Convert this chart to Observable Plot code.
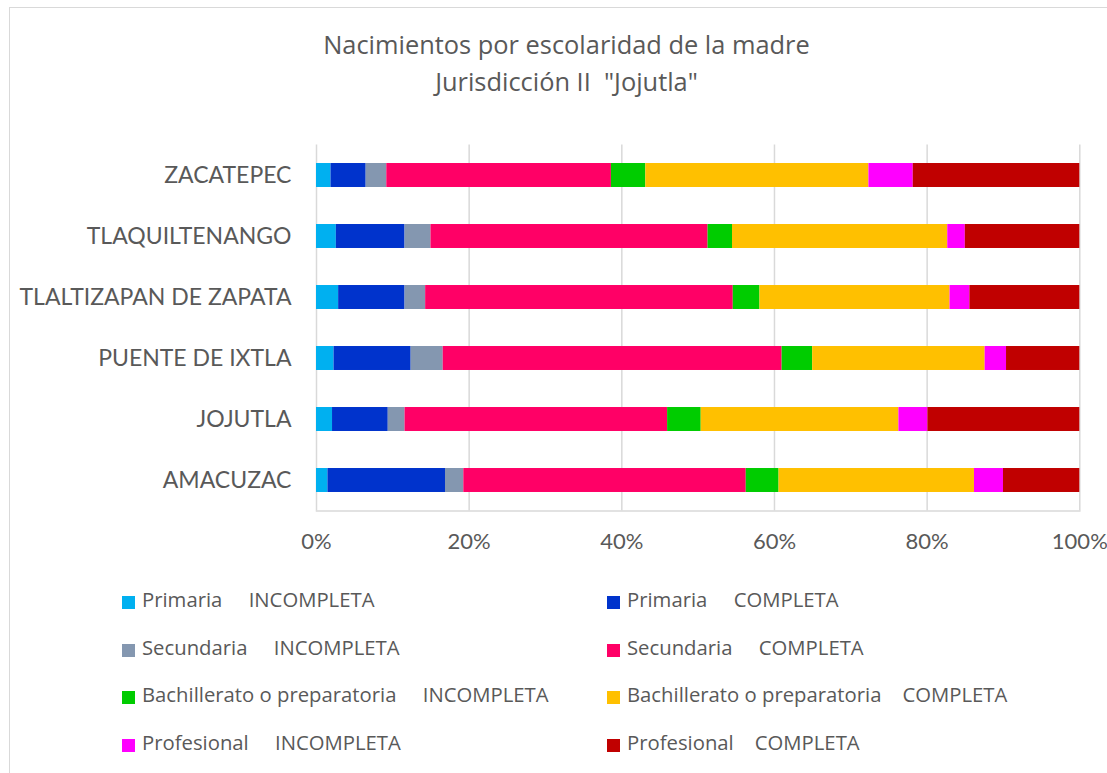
<!DOCTYPE html>
<html>
<head>
<meta charset="utf-8">
<script src="https://cdn.jsdelivr.net/npm/d3@7"></script>
<script src="https://cdn.jsdelivr.net/npm/@observablehq/plot@0.6"></script>
<style>
  html, body { margin: 0; padding: 0; background: #fff; overflow: hidden; }
  body { width: 1107px; height: 773px; position: relative; font-family: "Open Sans", Lato, sans-serif; color: #595959; }
  #frame { position: absolute; left: 9px; top: 7px; width: 1200px; height: 900px; border-left: 1.5px solid #d9d9d9; border-top: 1.5px solid #d9d9d9; }
  .title { position: absolute; left: 0; width: 1133px; text-align: center; font-size: 25.4px; line-height: 37px; top: 26px; }
  #chart { position: absolute; left: 0; top: 120px; }
  .leg { position: absolute; font-size: 20.3px; line-height: 24px; white-space: pre; }
  .sw { position: absolute; width: 13px; height: 13px; }
</style>
</head>
<body>
<div id="frame"></div>
<div class="title">Nacimientos por escolaridad de la madre<br>Jurisdicción II&nbsp; "Jojutla"</div>
<div id="chart"></div>
<div id="legend"></div>
<script>
const municipios = ["ZACATEPEC", "TLAQUILTENANGO", "TLALTIZAPAN DE ZAPATA", "PUENTE DE IXTLA", "JOJUTLA", "AMACUZAC"];
const categorias = [
  "Primaria     INCOMPLETA", "Primaria     COMPLETA",
  "Secundaria     INCOMPLETA", "Secundaria     COMPLETA",
  "Bachillerato o preparatoria     INCOMPLETA", "Bachillerato o preparatoria    COMPLETA",
  "Profesional     INCOMPLETA", "Profesional    COMPLETA"
];
const colores = ["#00b0f0", "#0033cc", "#8497b0", "#ff0066", "#00cc00", "#ffc000", "#ff00ff", "#c00000"];
const primInc  = [1.9, 2.6, 2.9, 2.3, 2.1, 1.5];
const primComp = [4.6, 9.0, 8.7, 10.1, 7.3, 15.4];
const secInc   = [2.7, 3.4, 2.7, 4.2, 2.2, 2.4];
const secComp  = [29.4, 36.3, 40.3, 44.4, 34.4, 37.0];
const bachInc  = [4.5, 3.2, 3.5, 4.0, 4.4, 4.3];
const bachComp = [29.2, 28.2, 24.9, 22.6, 25.9, 25.6];
const profInc  = [5.8, 2.3, 2.6, 2.8, 3.8, 3.8];
const profComp = [21.8, 15.0, 14.4, 9.6, 19.9, 10.0];
const xTicks = [0, 0.2, 0.4, 0.6, 0.8, 1];

const series = [primInc, primComp, secInc, secComp, bachInc, bachComp, profInc, profComp];
const data = [];
series.forEach((vals, i) => {
  vals.forEach((v, j) => data.push({municipio: municipios[j], cat: categorias[i], value: v}));
});

const chart = Plot.plot({
  width: 1107,
  height: 440,
  marginLeft: 316,
  marginRight: 27.7,
  marginTop: 24.5,
  marginBottom: 49.5,
  style: {fontFamily: "Lato, 'Open Sans', sans-serif", fontSize: "23px", color: "#595959", background: "transparent", overflow: "visible"},
  x: {domain: [0, 1]},
  y: {domain: municipios, paddingInner: 0.607, paddingOuter: 0.3035, round: false},
  color: {domain: categorias, range: colores},
  marks: [
    Plot.gridX(xTicks, {stroke: "#d9d9d9", strokeOpacity: 1, strokeWidth: 1.5}),
    Plot.frame({anchor: "bottom", stroke: "#d9d9d9", strokeWidth: 1.5}),
    Plot.barX(data, Plot.stackX({x: "value", y: "municipio", fill: "cat", order: categorias, offset: "normalize"})),
    Plot.axisX(xTicks, {tickSize: 0, tickPadding: 22, tickFormat: d3.format(".0%"), label: null, fill: "#595959", fontSize: 22}),
    Plot.axisY({tickSize: 0, tickPadding: 25, label: null, fill: "#595959"})
  ]
});
document.getElementById("chart").appendChild(chart);

// legend
const legend = document.getElementById("legend");
const colX = [122, 607];
const rowTop = [587, 635, 682, 729.5];
categorias.forEach((c, i) => {
  const col = i % 2, row = Math.floor(i / 2);
  const sw = document.createElement("div");
  sw.className = "sw";
  sw.style.left = colX[col] + "px";
  sw.style.top = (rowTop[row] + 9) + "px";
  sw.style.background = colores[i];
  legend.appendChild(sw);
  const t = document.createElement("div");
  t.className = "leg";
  t.style.left = (colX[col] + 20) + "px";
  t.style.top = rowTop[row] + "px";
  t.textContent = c;
  legend.appendChild(t);
});
</script>
</body>
</html>
